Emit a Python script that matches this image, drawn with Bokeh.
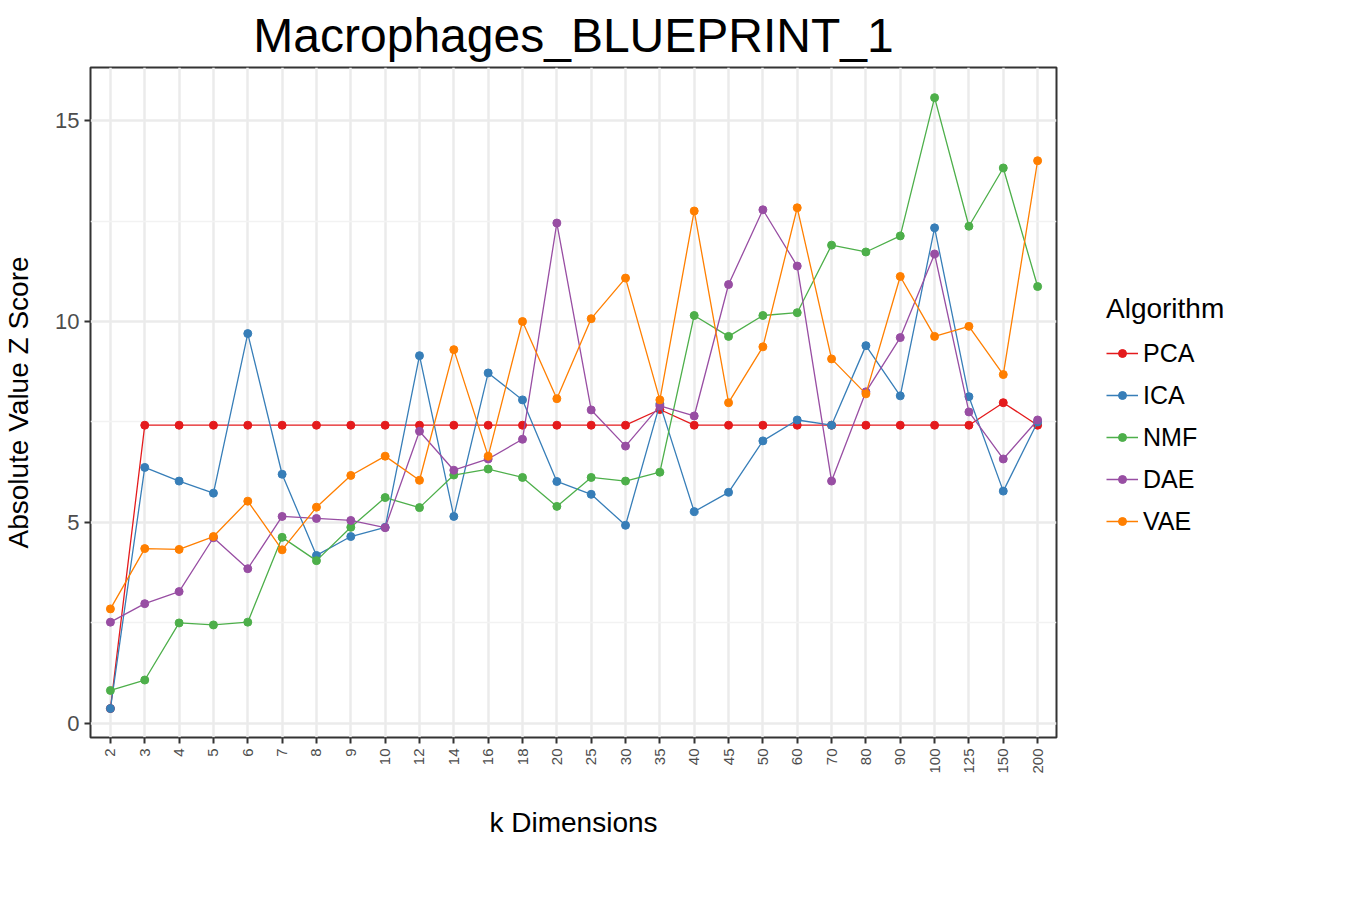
from bokeh.plotting import figure
from bokeh.models import FixedTicker, Range1d, Legend, LegendItem
from bokeh.embed import file_html
from bokeh.resources import INLINE

k_dims = ["2", "3", "4", "5", "6", "7", "8", "9", "10", "12", "14", "16", "18", "20",
          "25", "30", "35", "40", "45", "50", "60", "70", "80", "90", "100", "125", "150", "200"]

pca = [0.37, 7.42, 7.42, 7.42, 7.42, 7.42, 7.42, 7.42, 7.42, 7.42, 7.42, 7.42, 7.42, 7.42,
       7.42, 7.42, 7.81, 7.42, 7.42, 7.42, 7.42, 7.42, 7.42, 7.42, 7.42, 7.42, 7.98, 7.42]
ica = [0.37, 6.37, 6.03, 5.73, 9.70, 6.20, 4.18, 4.65, 4.88, 9.15, 5.15, 8.72, 8.05, 6.02,
       5.70, 4.93, 7.95, 5.27, 5.75, 7.03, 7.55, 7.42, 9.40, 8.15, 12.33, 8.13, 5.78, 7.50]
nmf = [0.82, 1.08, 2.50, 2.45, 2.52, 4.63, 4.05, 4.88, 5.62, 5.37, 6.18, 6.33, 6.12, 5.40,
       6.12, 6.03, 6.25, 10.15, 9.63, 10.15, 10.22, 11.90, 11.73, 12.13, 15.57, 12.37, 13.82, 10.87]
dae = [2.52, 2.98, 3.28, 4.62, 3.85, 5.15, 5.10, 5.05, 4.87, 7.27, 6.30, 6.58, 7.07, 12.45,
       7.80, 6.90, 7.90, 7.65, 10.92, 12.78, 11.38, 6.03, 8.25, 9.60, 11.68, 7.75, 6.58, 7.55]
vae = [2.85, 4.35, 4.33, 4.65, 5.53, 4.32, 5.38, 6.17, 6.65, 6.05, 9.30, 6.65, 10.00, 8.08,
       10.07, 11.08, 8.05, 12.75, 7.98, 9.37, 12.83, 9.07, 8.20, 11.12, 9.63, 9.88, 8.68, 14.00]

series = [("PCA", pca, "#e41a1c"), ("ICA", ica, "#377eb8"), ("NMF", nmf, "#4daf4a"),
          ("DAE", dae, "#984ea3"), ("VAE", vae, "#ff7f00")]

xs = list(range(len(k_dims)))

p = figure(frame_width=966, frame_height=670, output_backend="svg", toolbar_location=None,
           x_range=Range1d(-0.58, len(k_dims) - 1 + 0.55), y_range=Range1d(-0.35, 16.32),
           title="Macrophages_BLUEPRINT_1",
           x_axis_label="k Dimensions", y_axis_label="Absolute Value Z Score",
           min_border_left=10, min_border_right=10, min_border_top=10, min_border_bottom=10)

p.title.text_font = "Liberation Sans"
p.title.text_font_size = "48px"
p.title.text_font_style = "normal"
p.title.text_color = "black"
p.title.align = "center"
p.title.standoff = 12

p.outline_line_color = "#333333"
p.outline_line_width = 2

p.xaxis.ticker = FixedTicker(ticks=xs)
p.xaxis.major_label_overrides = {i: k for i, k in enumerate(k_dims)}
p.xaxis.major_label_orientation = 1.5708
p.yaxis.ticker = FixedTicker(ticks=[0, 5, 10, 15], minor_ticks=[2.5, 7.5, 12.5])

for ax in (p.xaxis, p.yaxis):
    ax.axis_line_color = None
    ax.major_tick_line_color = "#333333"
    ax.major_tick_line_width = 2
    ax.major_tick_out = 6
    ax.major_tick_in = 0
    ax.minor_tick_line_color = None
    ax.major_label_text_color = "#4d4d4d"
    ax.major_label_text_font = "Liberation Sans"
    ax.axis_label_text_font = "Liberation Sans"
    ax.axis_label_text_font_size = "28px"
    ax.axis_label_text_font_style = "normal"
    ax.axis_label_text_color = "black"
p.xaxis.major_label_text_font_size = "15px"
p.yaxis.major_label_text_font_size = "22px"
p.xaxis.axis_label_standoff = 30
p.yaxis.axis_label_standoff = 18

p.xgrid.grid_line_color = "#ebebeb"
p.xgrid.grid_line_width = 2.5
p.ygrid.grid_line_color = "#ebebeb"
p.ygrid.grid_line_width = 2.5
p.ygrid.minor_grid_line_color = "#f2f2f2"
p.ygrid.minor_grid_line_width = 1.5

items = []
for name, vals, col in series:
    l = p.line(xs, vals, line_color=col, line_width=1.3)
    c = p.scatter(xs, vals, size=8, fill_color=col, line_color=col)
    items.append(LegendItem(label=name, renderers=[l, c]))

legend = Legend(items=items, title="Algorithm", location=(50, 200))
legend.title_text_font = "Liberation Sans"
legend.title_text_font_size = "28px"
legend.title_text_font_style = "normal"
legend.title_text_color = "black"
legend.label_text_font = "Liberation Sans"
legend.label_text_font_size = "25px"
legend.label_text_color = "black"
legend.border_line_color = None
legend.background_fill_alpha = 0
legend.glyph_width = 32
legend.label_height = 32
legend.spacing = 10
legend.title_standoff = 12
p.add_layout(legend, "right")

open("out.html", "w").write(file_html(p, INLINE))
